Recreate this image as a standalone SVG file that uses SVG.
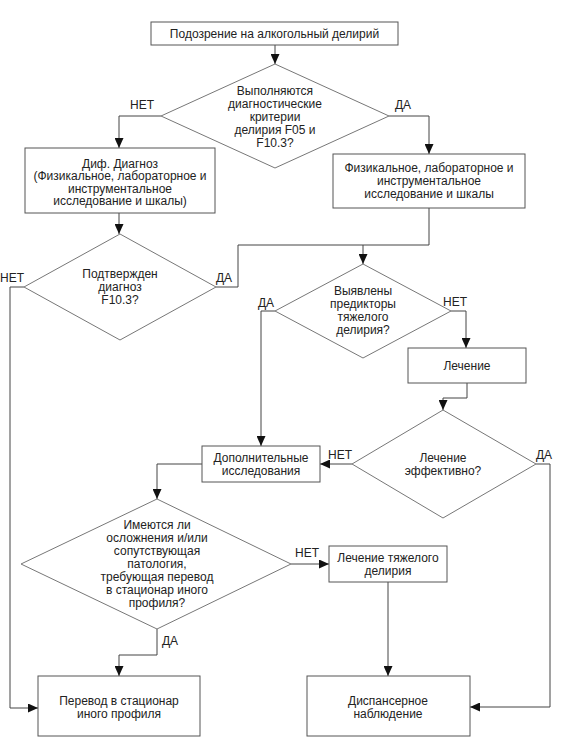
<svg xmlns="http://www.w3.org/2000/svg" width="568" height="737" viewBox="0 0 568 737">
<defs>
<marker id="arr" markerUnits="userSpaceOnUse" markerWidth="10" markerHeight="9" refX="10" refY="4.5" orient="auto">
<path d="M0,0 L10,4.5 L0,9 z" fill="#111"/>
</marker>
<style>
.box{fill:#fff;stroke:#555;stroke-width:1}
.dia{fill:#fff;stroke:#777;stroke-width:1}
.t{font-family:"Liberation Sans",Arial,sans-serif;font-size:12px;fill:#222;text-anchor:middle}
.c{fill:none;stroke:#444;stroke-width:1}
.ca{fill:none;stroke:#444;stroke-width:1;marker-end:url(#arr)}
</style>
</defs>
<rect width="568" height="737" fill="#fff"/>
<g id="connectors">
<path class="ca" d="M275,45 V64"/>
<path class="ca" d="M161,116 H119 V148"/>
<path class="ca" d="M389,116 H429 V154"/>
<path class="ca" d="M119,213 V234"/>
<path class="c" d="M429,208 V245 H363"/>
<path class="ca" d="M216,287 H238 V245 H363 V264"/>
<path class="ca" d="M24,287 H10 V708 H38"/>
<path class="ca" d="M275,311 H261 V446"/>
<path class="ca" d="M451,311 H466 V348"/>
<path class="ca" d="M467,383 V398 H443 V410"/>
<path class="ca" d="M352,464 H320"/>
<path class="ca" d="M536,464 H550 V707 H470"/>
<path class="ca" d="M202,464 H157 V499"/>
<path class="ca" d="M291,564 H329"/>
<path class="ca" d="M157,629 V655 H119 V676"/>
<path class="ca" d="M388,582 V676"/>
<g class="t">
<text x="142" y="109">НЕТ</text>
<text x="403" y="109">ДА</text>
<text x="12" y="282">НЕТ</text>
<text x="224" y="282">ДА</text>
<text x="266" y="307">ДА</text>
<text x="455" y="306">НЕТ</text>
<text x="340" y="459">НЕТ</text>
<text x="544" y="459">ДА</text>
<text x="307" y="557">НЕТ</text>
<text x="170" y="645">ДА</text>
</g>
</g>
<g id="n1">
<rect class="box" x="151" y="22" width="247" height="23"/>
<text class="t" x="274.5" y="38">Подозрение на алкогольный делирий</text>
</g>
<g id="n2">
<polygon class="dia" points="275,64 389,116 275,168 161,116"/>
<text class="t" x="275" y="95">Выполняются</text>
<text class="t" x="275" y="108">диагностические</text>
<text class="t" x="275" y="121">критерии</text>
<text class="t" x="275" y="134">делирия F05 и</text>
<text class="t" x="275" y="147">F10.3?</text>
</g>
<g id="n3">
<rect class="box" x="25" y="148" width="190" height="65"/>
<text class="t" x="120" y="167.5">Диф. Диагноз</text>
<text class="t" x="120" y="180">(Физикальное, лабораторное и</text>
<text class="t" x="120" y="192.5">инструментальное</text>
<text class="t" x="120" y="205">исследование и шкалы)</text>
</g>
<g id="n4">
<rect class="box" x="333" y="154" width="192" height="54"/>
<text class="t" x="429" y="172">Физикальное, лабораторное и</text>
<text class="t" x="429" y="185">инструментальное</text>
<text class="t" x="429" y="198">исследование и шкалы</text>
</g>
<g id="n5">
<polygon class="dia" points="120,234 216,287 120,340 24,287"/>
<text class="t" x="120" y="278">Подтвержден</text>
<text class="t" x="120" y="291">диагноз</text>
<text class="t" x="120" y="304">F10.3?</text>
</g>
<g id="n6">
<polygon class="dia" points="363,264 451,311 363,358 275,311"/>
<text class="t" x="363" y="295">Выявлены</text>
<text class="t" x="363" y="308">предикторы</text>
<text class="t" x="363" y="321">тяжелого</text>
<text class="t" x="363" y="334">делирия?</text>
</g>
<g id="n7">
<rect class="box" x="408" y="348" width="118" height="35"/>
<text class="t" x="467" y="370">Лечение</text>
</g>
<g id="n8">
<polygon class="dia" points="443,410 536,464 443,518 352,464"/>
<text class="t" x="443" y="462">Лечение</text>
<text class="t" x="443" y="475">эффективно?</text>
</g>
<g id="n9">
<rect class="box" x="202" y="446" width="118" height="36"/>
<text class="t" x="261" y="462">Дополнительные</text>
<text class="t" x="261" y="475">исследования</text>
</g>
<g id="n10">
<polygon class="dia" points="157,499 291,564 157,629 21,564"/>
<text class="t" x="157" y="529">Имеются ли</text>
<text class="t" x="157" y="542">осложнения и/или</text>
<text class="t" x="157" y="555">сопутствующая</text>
<text class="t" x="157" y="568">патология,</text>
<text class="t" x="157" y="581">требующая перевод</text>
<text class="t" x="157" y="594">в стационар иного</text>
<text class="t" x="157" y="607">профиля?</text>
</g>
<g id="n11">
<rect class="box" x="329" y="546" width="118" height="36"/>
<text class="t" x="388" y="562">Лечение тяжелого</text>
<text class="t" x="388" y="575">делирия</text>
</g>
<g id="n12">
<rect class="box" x="38" y="676" width="162" height="60"/>
<text class="t" x="119" y="705">Перевод в стационар</text>
<text class="t" x="119" y="718">иного профиля</text>
</g>
<g id="n13">
<rect class="box" x="307" y="676" width="163" height="60"/>
<text class="t" x="388" y="705">Диспансерное</text>
<text class="t" x="388" y="718">наблюдение</text>
</g>
</svg>
